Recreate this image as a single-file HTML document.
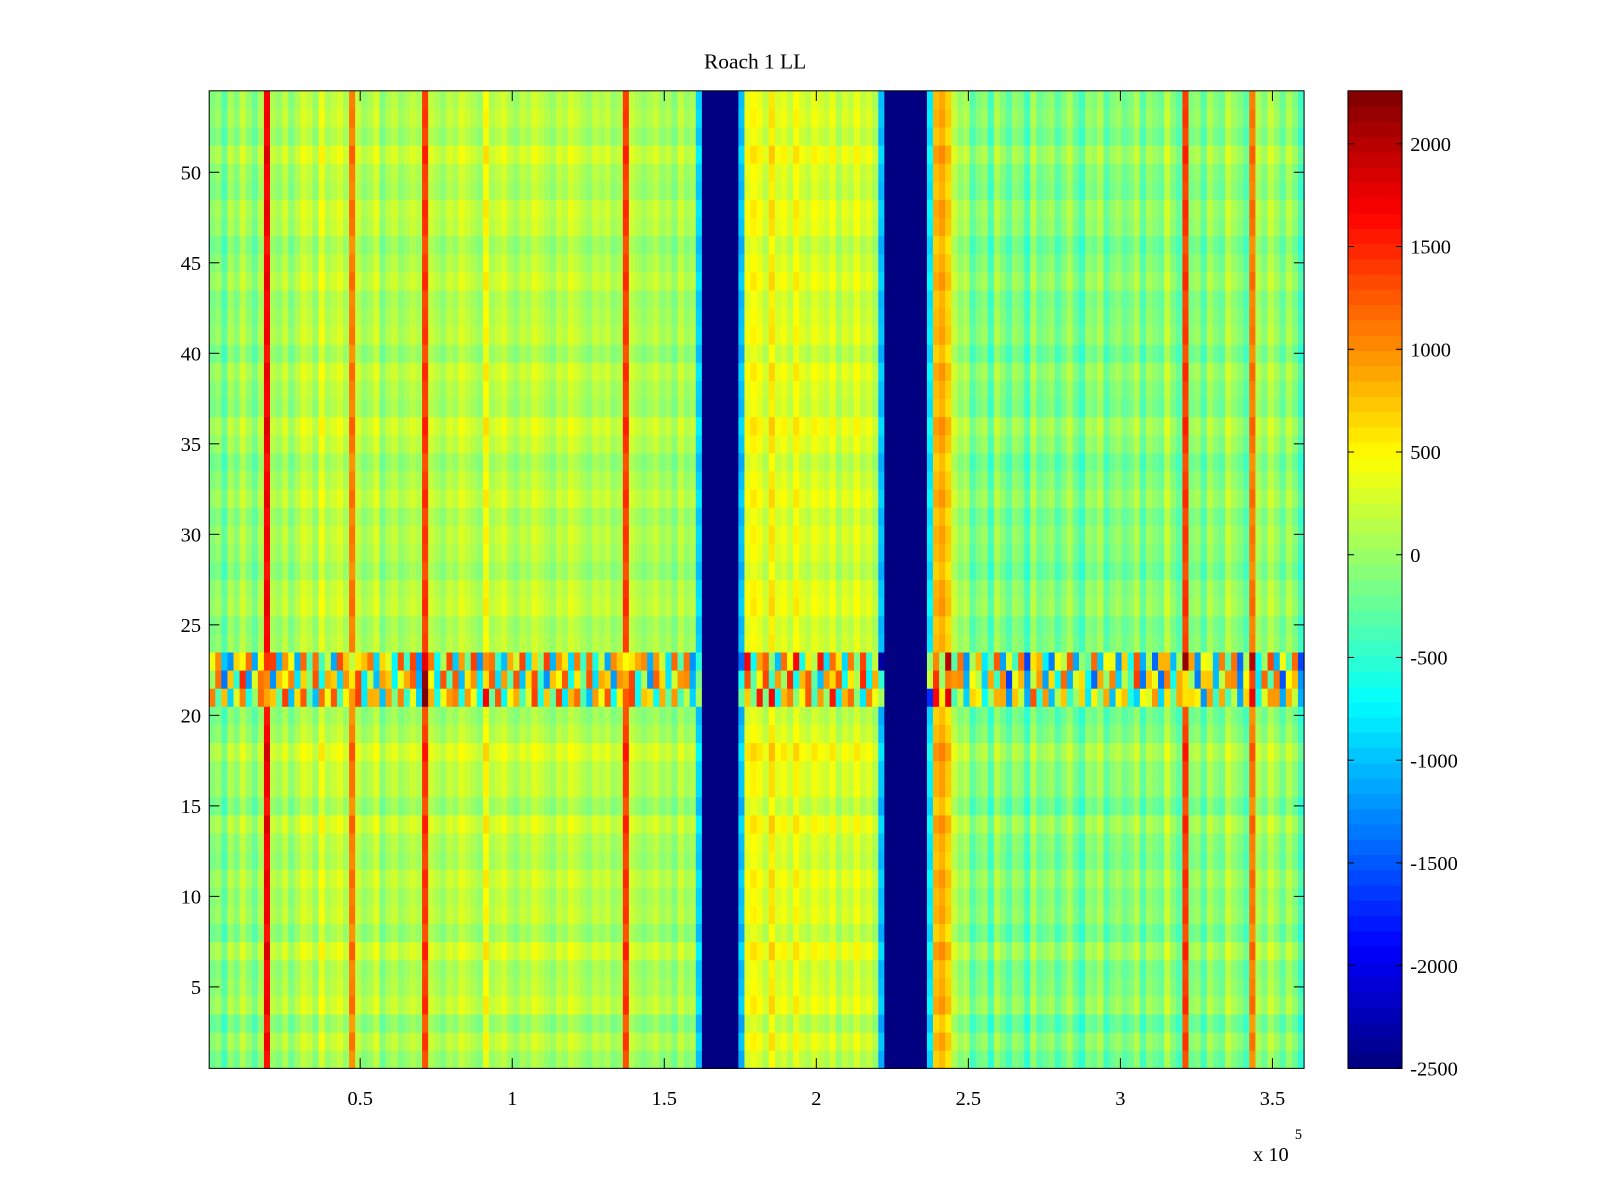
<!DOCTYPE html>
<html><head><meta charset="utf-8"><style>
html,body{margin:0;padding:0;background:#fff;}
svg{display:block;font-family:"Liberation Serif",serif;}
</style></head><body>
<svg id="chart" width="1600" height="1200">
<rect width="1600" height="1200" fill="#fff"/>
<g transform="scale(1.0204)">
<text x="740" y="67" font-size="21" text-anchor="middle">Roach 1 LL</text>
<g id="cells"></g>
<g id="axes"></g>
<g id="cbar"></g>
<text x="1228" y="1138" font-size="20">x 10</text>
<text x="1269" y="1116" font-size="14">5</text>
</g>
</svg>
<script>
// ---- data ----
const colBase = [
0,100,-200,200,0,300,100,-100,200,1800,
200,100,300,0,200,400,300,100,500,200,
300,400,200,1200,300,100,200,400,0,200,
300,100,200,300,200,1500,300,200,100,300,
200,400,300,200,100,600,200,300,400,200,
100,300,200,400,300,200,100,300,200,400,
300,200,100,300,200,300,100,200,1500,300,
200,100,200,300,100,200,0,300,100,200,
-800,-2500,-2500,-2500,-2500,-2500,-2500,-900,500,600,
500,300,700,400,500,300,600,400,300,500,
400,300,500,200,400,300,500,300,400,200,
-900,-2500,-2500,-2500,-2500,-2500,-2500,-2500,-700,900,
1000,800,300,100,200,-200,0,100,-300,200,
0,-200,100,0,-300,200,-100,0,100,-200,
0,200,-100,-300,100,0,200,-200,0,100,
-100,0,200,-200,100,0,-100,300,0,-200,
1500,0,100,-200,200,0,-100,300,100,0,
-200,1200,200,0,300,100,-100,200,0,-300];
const rowOffset = [
-100,50,-150,100,0,-50,150,-100,50,0,
100,-50,0,150,-100,50,50,200,0,-100,
100,0,0,0,-50,100,50,-100,0,50,
-50,100,0,-100,50,150,-50,0,100,-100,
50,0,-50,100,0,-100,50,100,-50,0,
150,-50,50,0];
const bandAmp = [0,0,0,0,0,0,0,0,0,0,0,0,0,0,0,0,0,0,0,0,1100,1300,1300,0,0,0,0,0,0,0,0,0,0,0,0,0,0,0,0,0,0,0,0,0,0,0,0,0,0,0,0,0,0,0];
const bandTex = [0.8,-0.9,0.6,0.2,-0.7,1,-0.4,0.9,-1,0.3,0.7,-0.6,0.1,0.9,-0.8,0.5,-0.3,1,-0.9,0.4,0.8,-0.5,-1,0.6,0.2,0.9,-0.7,0.3,-0.2,1,-0.8,0.6,0.4,-0.9,0.7,-0.4,0.9,-0.6,0.1,-1,0.8,0.5,-0.7,0.3,0.6];
const xTicks = [0.5,1,1.5,2,2.5,3,3.5];
const yTicks = [5,10,15,20,25,30,35,40,45,50];
const cbTicks = [-2500,-2000,-1500,-1000,-500,0,500,1000,1500,2000];

// ---- scales ----
const L=205,R=1278,T=89,B=1047;
const yMin=0.5,yMax=54.5,cMin=-2500,cMax=2258;
const xs=v=>204+(v)*298;
const ys=v=>B-(v-yMin)/(yMax-yMin)*(B-T);
function jet(v){let t=(v-cMin)/(cMax-cMin);t=Math.max(0,Math.min(1,t));
 const f=x=>Math.max(0,Math.min(1,x));
 const r=f(1.5-Math.abs(4*t-3)),g=f(1.5-Math.abs(4*t-2)),b=f(1.5-Math.abs(4*t-1));
 return `rgb(${Math.round(r*255)},${Math.round(g*255)},${Math.round(b*255)})`;}
const NS="http://www.w3.org/2000/svg";
function mk(tag,attrs,parent){const e=document.createElementNS(NS,tag);for(const k in attrs)e.setAttribute(k,attrs[k]);parent.appendChild(e);return e;}

// ---- cells ----
const cells=document.getElementById('cells');
const nC=colBase.length,cw=(R-L)/nC;
for(let j=0;j<rowOffset.length;j++){
 const y0=ys(j+1.5),y1=ys(j+0.5);
 for(let i=0;i<nC;i++){
  let v=colBase[i];
  if(v>-2000){v+=rowOffset[j]-120+bandAmp[j]*bandTex[(i+j*7)%bandTex.length];}
  const r=mk('rect',{x:(L+i*cw).toFixed(2),y:y0.toFixed(2),width:(cw+0.5).toFixed(2),height:(y1-y0+0.5).toFixed(2),fill:jet(v)},cells);
  
  
 }
}
// ---- axes ----
const ax=document.getElementById('axes');
const frame=mk('rect',{x:L,y:T,width:R-L,height:B-T,fill:'none',stroke:'#000','stroke-width':1},ax);


xTicks.forEach(t=>{const x=xs(t);
 mk('line',{x1:x,x2:x,y1:B,y2:B-10,stroke:'#000'},ax);
 mk('line',{x1:x,x2:x,y1:T,y2:T+10,stroke:'#000'},ax);
 const tx=mk('text',{x:x,y:B+36,'font-size':20,'text-anchor':'middle'},ax);tx.textContent=t;
 
 
});
yTicks.forEach(t=>{const y=ys(t);
 mk('line',{x1:L,x2:L+10,y1:y,y2:y,stroke:'#000'},ax);
 mk('line',{x1:R,x2:R-10,y1:y,y2:y,stroke:'#000'},ax);
 const tx=mk('text',{x:L-8,y:y+7,'font-size':20,'text-anchor':'end'},ax);tx.textContent=t;
 
 
});
// ---- colorbar ----
const cb=document.getElementById('cbar');
const CL=1321,CR=1374,N=64;
const cy=v=>B-(v-cMin)/(cMax-cMin)*(B-T);
for(let k=0;k<N;k++){const v0=cMin+(cMax-cMin)*k/N,v1=cMin+(cMax-cMin)*(k+1)/N;
 const r=mk('rect',{x:CL,y:cy(v1),width:CR-CL,height:cy(v0)-cy(v1)+0.5,fill:jet((v0+v1)/2)},cb);
 
 
}
mk('rect',{x:CL,y:T,width:CR-CL,height:B-T,fill:'none',stroke:'#000'},cb);
cbTicks.forEach(t=>{const y=cy(t);
 mk('line',{x1:CL,x2:CL+6,y1:y,y2:y,stroke:'#000'},cb);
 mk('line',{x1:CR,x2:CR-6,y1:y,y2:y,stroke:'#000'},cb);
 const tx=mk('text',{x:CR+8,y:y+7,'font-size':20},cb);tx.textContent=t;
 
 
});
</script>
</body></html>
